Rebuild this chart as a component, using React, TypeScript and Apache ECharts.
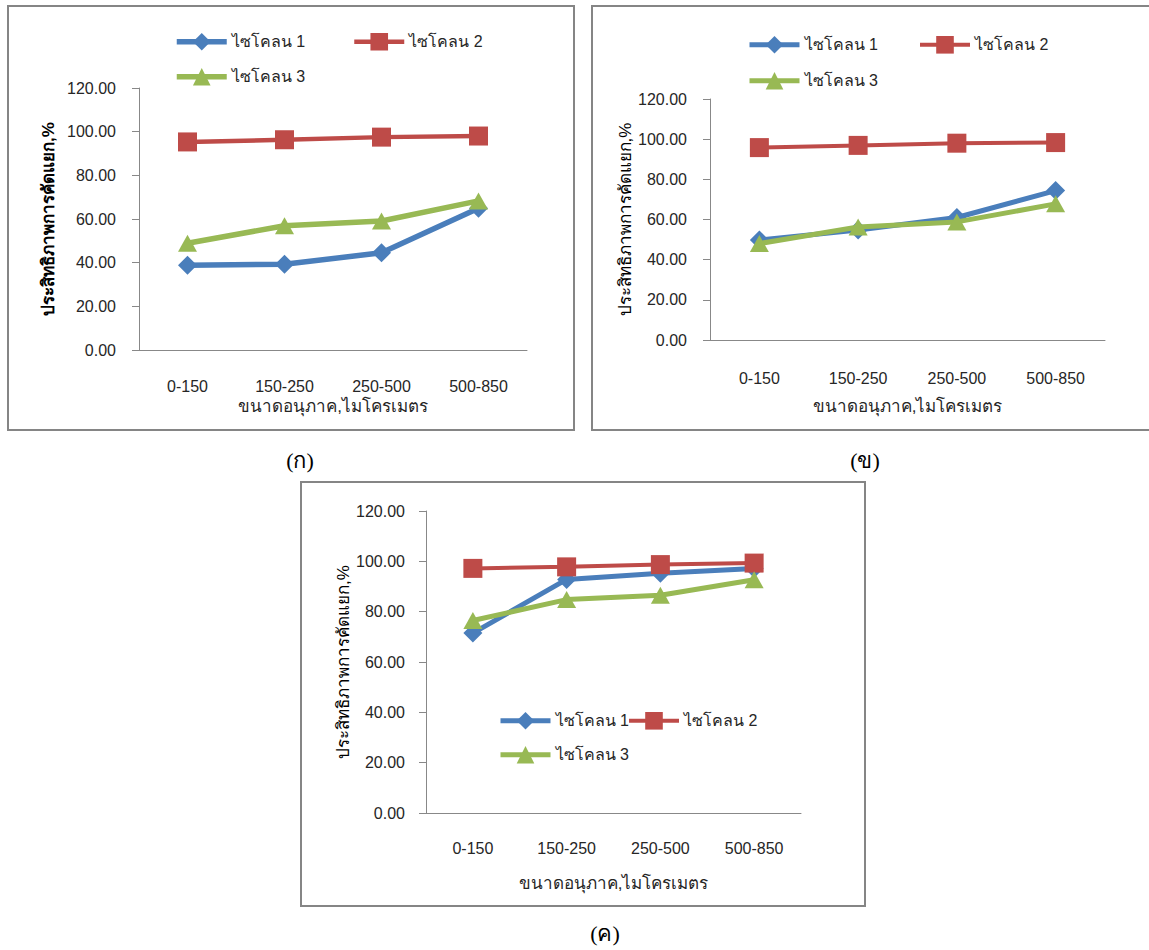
import React, { useEffect, useRef } from "react";
import * as echarts from "echarts";

const categories = ["0-150", "150-250", "250-500", "500-850"];
const seriesNames = ["ไซโคลน 1", "ไซโคลน 2", "ไซโคลน 3"];
const yMin = 0;
const yMax = 120;
const yInterval = 20;

const panelA_cyclone1 = [38.8, 39.3, 44.5, 64.9];
const panelA_cyclone2 = [95.3, 96.3, 97.5, 98.0];
const panelA_cyclone3 = [48.9, 56.9, 59.1, 68.3];

const panelB_cyclone1 = [49.8, 54.8, 61.0, 74.4];
const panelB_cyclone2 = [95.8, 96.9, 98.0, 98.3];
const panelB_cyclone3 = [48.0, 56.3, 58.8, 67.8];

const panelC_cyclone1 = [71.5, 92.8, 95.3, 97.2];
const panelC_cyclone2 = [97.2, 97.8, 98.7, 99.3];
const panelC_cyclone3 = [76.5, 84.8, 86.5, 92.7];

const panelLabels = ["(ก)", "(ข)", "(ค)"];
const yAxisTitle = "ประสิทธิภาพการคัดแยก,%";
const xAxisTitle = "ขนาดอนุภาค,ไมโครเมตร";

const COLORS = ["#4A7EBB", "#BE4B48", "#98B954"];
const SYMBOLS = ["diamond", "rect", "triangle"];
const FONT = "'Liberation Sans Narrow', 'Liberation Sans', 'Noto Sans', sans-serif";
const TEXT = "#262626";
const AXIS = "#888888";

const panelData = [
  [panelA_cyclone1, panelA_cyclone2, panelA_cyclone3],
  [panelB_cyclone1, panelB_cyclone2, panelB_cyclone3],
  [panelC_cyclone1, panelC_cyclone2, panelC_cyclone3],
];

// layout (pixels)
const layouts = [
  {
    frame: { x: 8, y: 6, w: 566, h: 424 },
    grid: { left: 139, top: 88, width: 388, height: 262 },
    legend: [[174, 33], [352, 33], [174, 68]],
    label: [300, 460],
    yNameGap: 82, xNameGap: 48, xLabelMargin: 28, yLabelMargin: 23, yBold: true, lw: 5.5,
  },
  {
    frame: { x: 592, y: 6, w: 570, h: 424 },
    grid: { left: 710, top: 99, width: 395, height: 241 },
    legend: [[747, 36], [918, 36], [747, 72]],
    label: [865, 460],
    yNameGap: 76, xNameGap: 58, xLabelMargin: 30, yLabelMargin: 23, yBold: false, lw: 5,
  },
  {
    frame: { x: 301, y: 482, w: 564, h: 424 },
    grid: { left: 426, top: 511, width: 375, height: 302 },
    legend: [[498, 712], [627, 712], [498, 746]],
    label: [605, 933],
    yNameGap: 72, xNameGap: 62, xLabelMargin: 27, yLabelMargin: 21, yBold: false, lw: 5,
  },
];

function buildOption() {
  const grids: any[] = [];
  const xAxes: any[] = [];
  const yAxes: any[] = [];
  const series: any[] = [];
  const legends: any[] = [];
  const graphics: any[] = [];

  layouts.forEach((L, p) => {
    graphics.push({
      type: "rect",
      shape: { x: L.frame.x, y: L.frame.y, width: L.frame.w, height: L.frame.h },
      style: { fill: "none", stroke: "#858585", lineWidth: 2 },
      z: 0,
    });
    graphics.push({
      type: "text",
      x: L.label[0],
      y: L.label[1],
      style: {
        text: panelLabels[p],
        font: "22px 'Liberation Serif', serif",
        fill: "#000",
        align: "center",
        verticalAlign: "middle",
      },
    });
    grids.push({ ...L.grid, containLabel: false });
    xAxes.push({
      type: "category",
      gridIndex: p,
      data: categories,
      boundaryGap: true,
      axisLine: { show: true, lineStyle: { color: AXIS, width: 1 } },
      axisTick: { show: false },
      axisLabel: { color: TEXT, fontSize: 16, fontFamily: FONT, margin: L.xLabelMargin },
      name: xAxisTitle,
      nameLocation: "middle",
      nameGap: L.xNameGap,
      nameTextStyle: { color: TEXT, fontSize: 17, fontFamily: FONT },
      splitLine: { show: false },
    });
    yAxes.push({
      type: "value",
      gridIndex: p,
      min: yMin,
      max: yMax,
      interval: yInterval,
      axisLine: { show: true, lineStyle: { color: AXIS, width: 1 } },
      axisTick: { show: true, length: 7, lineStyle: { color: AXIS } },
      axisLabel: {
        color: TEXT,
        fontSize: 16,
        fontFamily: FONT,
        margin: L.yLabelMargin,
        formatter: (v: number) => v.toFixed(2),
      },
      splitLine: { show: false },
      name: yAxisTitle,
      nameLocation: "middle",
      nameGap: L.yNameGap,
      nameRotate: 90,
      nameTextStyle: {
        color: "#000",
        fontSize: 17,
        fontFamily: FONT,
        fontWeight: L.yBold ? "bold" : "normal",
      },
    });
    panelData[p].forEach((vals, s) => {
      const lw = s === 1 ? L.lw - 1 : L.lw;
      series.push({
        type: "line",
        name: seriesNames[s],
        xAxisIndex: p,
        yAxisIndex: p,
        data: vals,
        symbol: SYMBOLS[s],
        symbolSize: s === 2 ? [19, 17] : 19,
        itemStyle: { color: COLORS[s] },
        lineStyle: { color: COLORS[s], width: lw },
        emphasis: { disabled: true },
        z: 2 + s,
      });
      legends.push({
        data: [seriesNames[s]],
        left: L.legend[s][0],
        top: L.legend[s][1],
        itemWidth: 50,
        itemHeight: 22,
        padding: 0,
        selectedMode: false,
        lineStyle: { width: lw },
        textStyle: { color: TEXT, fontSize: 16, fontFamily: FONT },
      });
    });
  });

  return {
    animation: false,
    backgroundColor: "#ffffff",
    grid: grids,
    xAxis: xAxes,
    yAxis: yAxes,
    series,
    legend: legends,
    graphic: graphics,
  };
}

export default function App() {
  const ref = useRef<HTMLDivElement>(null);
  useEffect(() => {
    if (!ref.current) return;
    const chart = echarts.init(ref.current, null, { renderer: "svg" });
    chart.setOption(buildOption() as any);
    return () => chart.dispose();
  }, []);
  return (
    <div
      ref={ref}
      style={{ position: "absolute", left: 0, top: 0, width: 1149, height: 950, background: "#fff" }}
    />
  );
}
